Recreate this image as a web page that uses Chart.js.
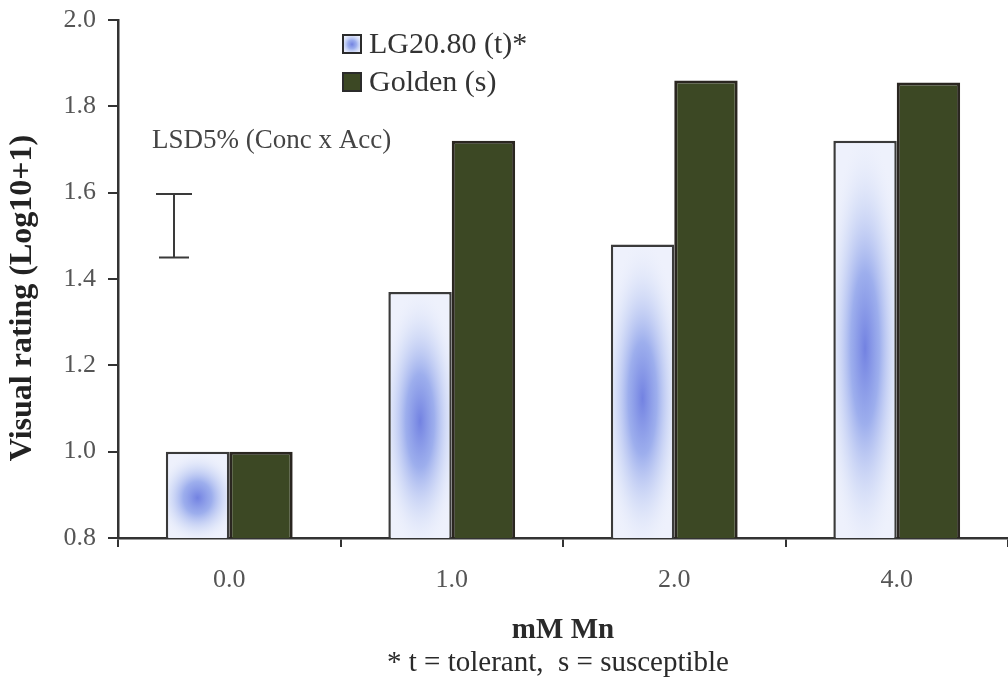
<!DOCTYPE html>
<html>
<head>
<meta charset="utf-8">
<script src="https://cdn.jsdelivr.net/npm/chart.js@4.4.1/dist/chart.umd.min.js"></script>
<style>
  html, body { margin: 0; padding: 0; background: #fff; }
  #wrap { width: 1008px; height: 683px; position: relative; }
</style>
</head>
<body>
<div id="wrap"><canvas id="mn-chart"></canvas></div>
<script>
const categories = ["0.0", "1.0", "2.0", "4.0"];
const lg2080 = [1.0, 1.37, 1.48, 1.72];
const golden = [1.0, 1.72, 1.86, 1.855];
const yMin = 0.8;
const yMax = 2.0;
const yStep = 0.2;
const lsdRange = [1.45, 1.597];
const seriesNames = ["LG20.80 (t)*", "Golden (s)"];
const yTitle = "Visual rating (Log10+1)";
const footnote = "* t = tolerant,  s = susceptible";

const SERIF = "'Liberation Serif', 'Times New Roman', serif";
const INK = "#333";
const GREEN = "rgb(60, 72, 36)";

function paintBlue(ctx, left, top, w, h) {
  if (w <= 0 || h <= 0) return;
  ctx.save();
  ctx.beginPath();
  ctx.rect(left, top, w, h);
  ctx.clip();
  ctx.fillStyle = "#eef1fc";
  ctx.fillRect(left, top, w, h);
  const cx = left + w / 2;
  const cy = top + h * 0.52;
  const rx = w * 0.7;
  const ry = Math.max(h * 0.55, rx);
  ctx.translate(cx, cy);
  ctx.scale(1, ry / rx);
  const g = ctx.createRadialGradient(0, 0, 0, 0, 0, rx);
  g.addColorStop(0, "rgba(108, 124, 224, 0.95)");
  g.addColorStop(0.35, "rgba(130, 152, 232, 0.75)");
  g.addColorStop(0.7, "rgba(185, 200, 242, 0.35)");
  g.addColorStop(1, "rgba(238, 242, 252, 0)");
  ctx.fillStyle = g;
  ctx.fillRect(-rx, -rx, rx * 2, rx * 2);
  ctx.restore();
}

// soft blue shading inside the LG20.80 bars
const bluePaint = {
  id: "bluePaint",
  afterDatasetDraw(chart, args) {
    if (args.index !== 0) return;
    const ctx = chart.ctx;
    const bw = 2.5;
    const floor = chart.chartArea.bottom;
    args.meta.data.forEach((el) => {
      const p = el.getProps(["x", "y", "base", "width"], true);
      const bottom = Math.min(p.base, floor);
      const left = p.x - p.width / 2 + bw;
      const top = p.y + bw;
      paintBlue(ctx, left, top, p.width - bw * 2, bottom - top);
    });
  },
};

// legend, LSD bar, y title and footnote
const extras = {
  id: "extras",
  afterDraw(chart) {
    const ctx = chart.ctx;
    const area = chart.chartArea;
    const y = chart.scales.y;

    ctx.save();
    const lx = area.left + 225;
    const rows = [44, 82];
    rows.forEach((ry, i) => {
      if (i === 0) {
        paintBlue(ctx, lx, ry - 9, 18, 18);
      } else {
        ctx.fillStyle = GREEN;
        ctx.fillRect(lx, ry - 9, 18, 18);
      }
      ctx.strokeStyle = "#2b2b2b";
      ctx.lineWidth = 2;
      ctx.strokeRect(lx, ry - 9, 18, 18);
      ctx.fillStyle = INK;
      ctx.font = "30px " + SERIF;
      ctx.textAlign = "left";
      ctx.textBaseline = "middle";
      ctx.fillText(seriesNames[i], lx + 26, ry + 1);
    });

    ctx.font = "27px " + SERIF;
    ctx.fillStyle = "#444";
    ctx.fillText("LSD5% (Conc x Acc)", area.left + 34, y.getPixelForValue(1.72));

    const sx = area.left + 56;
    const yTop = y.getPixelForValue(lsdRange[1]);
    const yBot = y.getPixelForValue(lsdRange[0]);
    ctx.strokeStyle = "#3a3a3a";
    ctx.lineWidth = 2;
    ctx.beginPath();
    ctx.moveTo(sx, yTop);
    ctx.lineTo(sx, yBot);
    ctx.moveTo(sx - 18, yTop);
    ctx.lineTo(sx + 18, yTop);
    ctx.moveTo(sx - 15, yBot);
    ctx.lineTo(sx + 15, yBot);
    ctx.stroke();

    ctx.font = "29px " + SERIF;
    ctx.fillStyle = "#2a2a2a";
    ctx.textAlign = "center";
    ctx.fillText(footnote, area.left + 440, 663);

    ctx.translate(23, 298);
    ctx.rotate(-Math.PI / 2);
    ctx.font = "bold 32px " + SERIF;
    ctx.fillStyle = "#222";
    ctx.fillText(yTitle, 0, 0);
    ctx.restore();
  },
};

new Chart(document.getElementById("mn-chart"), {
  type: "bar",
  data: {
    labels: categories,
    datasets: [
      {
        label: seriesNames[0],
        data: lg2080,
        backgroundColor: "#eef1fc",
        borderColor: "#3a3a3a",
        borderWidth: 2.5,
        borderSkipped: false,
      },
      {
        label: seriesNames[1],
        data: golden,
        backgroundColor: GREEN,
        borderColor: "#2a2620",
        borderWidth: 3,
        borderSkipped: false,
      },
    ],
  },
  options: {
    responsive: true,
    maintainAspectRatio: false,
    animation: false,
    categoryPercentage: 0.57,
    barPercentage: 1.0,
    layout: { padding: { top: 20, right: 0, left: 0, bottom: 0 } },
    plugins: {
      legend: { display: false },
      tooltip: { enabled: false },
    },
    scales: {
      x: {
        offset: true,
        border: { display: true, color: INK, width: 2.5 },
        grid: {
          offset: true,
          drawOnChartArea: false,
          drawTicks: true,
          tickLength: 9,
          color: INK,
          lineWidth: 2,
        },
        ticks: {
          color: "#555",
          padding: 18,
          font: { family: SERIF, size: 26 },
        },
        title: {
          display: true,
          text: "mM Mn",
          color: "#2a2a2a",
          font: { family: SERIF, size: 29, weight: "bold", lineHeight: 1 },
          padding: { top: 0, bottom: 38 },
        },
        afterFit(scale) {
          scale.height = 145;
        },
      },
      y: {
        min: yMin,
        max: yMax,
        border: { display: true, color: INK, width: 2.5 },
        grid: {
          drawOnChartArea: false,
          drawTicks: true,
          tickLength: 10,
          color: INK,
          lineWidth: 2,
        },
        ticks: {
          stepSize: yStep,
          color: "#555",
          padding: 12,
          font: { family: SERIF, size: 26, lineHeight: 0.6 },
          callback: (v) => Number(v).toFixed(1),
        },
        title: { display: false },
        afterFit(scale) {
          scale.width = 118;
        },
      },
    },
  },
  plugins: [bluePaint, extras],
});
</script>
</body>
</html>
